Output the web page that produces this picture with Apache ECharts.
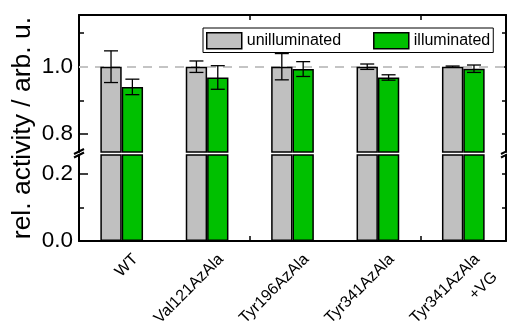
<!DOCTYPE html>
<html><head><meta charset="utf-8">
<script src="https://cdn.jsdelivr.net/npm/echarts@6/dist/echarts.min.js"></script>
<style>html,body{margin:0;padding:0;background:#fff}#c{width:507px;height:324px}</style>
</head><body><div id="c"></div>
<script>
const categories = ['WT', 'Val121AzAla', 'Tyr196AzAla', 'Tyr341AzAla', 'Tyr341AzAla\n+VG'];
const unilluminated = [1.0, 1.0, 1.0, 1.0, 1.0];
const unilluminatedErr = [0.047, 0.017, 0.039, 0.008, 0.002];
const illuminated = [0.94, 0.968, 0.993, 0.968, 0.994];
const illuminatedErr = [0.023, 0.035, 0.022, 0.008, 0.011];
const topMajor = [0.8, 1.0];
const topMinor = [0.9, 1.1];
const bottomMajor = [0.0, 0.2];
const bottomMinor = [0.1];
const referenceLevel = 1.0;

const FONT = 'Liberation Sans, Arial, sans-serif';
const L = 79, R = 1, TOP = 15, BREAK_TOP = 152, BREAK_BOT = 155, BOTTOM = 241;
const PX_PER_UNIT = 337;
const topMin = referenceLevel - (BREAK_TOP - 66.7) / PX_PER_UNIT;
const topMax = referenceLevel + (66.7 - TOP) / PX_PER_UNIT;
const botMax = (BOTTOM - BREAK_BOT) / PX_PER_UNIT;

const chart = echarts.init(document.getElementById('c'), null, {renderer: 'canvas'});

function errSeries(vals, errs, offset, xi, yi) {
  return {
    type: 'custom', xAxisIndex: xi, yAxisIndex: yi, z: 5, silent: true,
    data: vals.map((v, i) => [i, v - errs[i], v + errs[i]]),
    encode: {x: 0, y: [1, 2]},
    renderItem(params, api) {
      const i = api.value(0);
      const lo = api.coord([i, api.value(1)]);
      const hi = api.coord([i, api.value(2)]);
      const bw = api.size([1, 0])[0];
      const x = lo[0] + offset * bw;
      const cap = 7;
      const st = {stroke: '#000', lineWidth: 1.3};
      return {type: 'group', children: [
        {type: 'line', shape: {x1: x, y1: hi[1], x2: x, y2: lo[1]}, style: st},
        {type: 'line', shape: {x1: x - cap, y1: hi[1], x2: x + cap, y2: hi[1]}, style: st},
        {type: 'line', shape: {x1: x - cap, y1: lo[1], x2: x + cap, y2: lo[1]}, style: st}
      ]};
    }
  };
}

function barSeries(name, data, color, xi, yi, extra) {
  return Object.assign({
    name, type: 'bar', xAxisIndex: xi, yAxisIndex: yi, data,
    barGap: '0%', barCategoryGap: '50%', clip: true,
    itemStyle: {color, borderColor: '#000', borderWidth: 1.5},
    emphasis: {disabled: true}
  }, extra || {});
}

const axisLineStyle = {show: true, lineStyle: {color: '#000', width: 2}};
const fmt = v => Number(v).toFixed(1);

function yAx(grid, min, max, pos, ticks, len, labels) {
  return {
    type: 'value', gridIndex: grid, min, max, position: pos,
    axisLine: labels === 'noline' ? {show: false} : axisLineStyle,
    splitLine: {show: false},
    axisTick: {show: true, inside: true, length: len, customValues: ticks, lineStyle: {color: '#000', width: 1.5}},
    axisLabel: Array.isArray(labels) ? {show: true, customValues: labels, formatter: fmt, fontSize: 22.5, fontFamily: FONT, color: '#000', margin: 6} : {show: false}
  };
}

const option = {
  animation: false,
  backgroundColor: '#fff',
  grid: [
    {left: L, right: R, top: TOP, height: BREAK_TOP - TOP, outerBoundsMode: 'none'},
    {left: L, right: R, top: BREAK_BOT, height: BOTTOM - BREAK_BOT, outerBoundsMode: 'none'},
    {left: L + 5, width: 507 - L - R, top: TOP, height: BOTTOM - TOP, outerBoundsMode: 'none'},
    {left: L, right: R, top: TOP, height: BOTTOM - TOP, outerBoundsMode: 'none'}
  ],
  legend: {
    data: ['unilluminated', 'illuminated'],
    left: 203, top: 28,
    padding: [4, 3, 3, 3],
    itemWidth: 35, itemHeight: 16, itemGap: 32,
    borderColor: '#000', borderWidth: 1, backgroundColor: '#fff',
    textStyle: {fontSize: 16, fontFamily: FONT, color: '#000'},
    icon: 'rect', selectedMode: false,
    itemStyle: {borderColor: '#000', borderWidth: 1.5}
  },
  xAxis: [
    {type: 'category', gridIndex: 0, data: categories, position: 'top',
     axisLine: axisLineStyle, axisTick: {show: true, inside: true, length: 5, lineStyle: {color: '#000', width: 1.5}},
     axisLabel: {show: false}},
    {type: 'category', gridIndex: 1, data: categories, position: 'bottom',
     axisLine: axisLineStyle, axisTick: {show: true, inside: true, length: 5, lineStyle: {color: '#000', width: 1.5}},
     axisLabel: {show: false}},
    {type: 'category', gridIndex: 2, data: categories, position: 'bottom',
     axisLine: {show: false}, axisTick: {show: false},
     axisLabel: {show: true, rotate: 45, fontSize: 16, fontFamily: FONT, color: '#000',
                 align: 'right', verticalAlign: 'top', margin: 7, lineHeight: 25, interval: 0,
                 hideOverlap: false}},
    {type: 'category', gridIndex: 3, data: categories, show: false}
  ],
  yAxis: [
    yAx(0, topMin, topMax, 'left', topMajor, 9, topMajor),
    yAx(0, topMin, topMax, 'left', topMinor, 5, 'noline'),
    yAx(0, topMin, topMax, 'right', topMajor.concat(topMinor), 4, null),
    yAx(1, 0, botMax, 'left', bottomMajor, 9, bottomMajor),
    yAx(1, 0, botMax, 'left', bottomMinor, 5, 'noline'),
    yAx(1, 0, botMax, 'right', bottomMajor.concat(bottomMinor), 4, null),
    {type: 'value', gridIndex: 2, show: false},
    {type: 'value', gridIndex: 3, min: 0, max: 1,
     axisLine: {show: false}, axisTick: {show: false}, axisLabel: {show: false}, splitLine: {show: false},
     name: 'rel. activity / arb. u.', nameLocation: 'middle', nameGap: 43,
     nameTextStyle: {fontSize: 26.5, fontFamily: FONT, color: '#000'}}
  ],
  series: [
    barSeries('unilluminated', unilluminated, '#c0c0c0', 0, 0, {
      markLine: {silent: true, symbol: 'none', z: 1, label: {show: false},
        lineStyle: {color: '#c4c4c4', width: 2, type: [9, 7]},
        data: [{yAxis: referenceLevel}]}
    }),
    barSeries('illuminated', illuminated, '#00c000', 0, 0),
    barSeries('unilluminated', unilluminated, '#c0c0c0', 1, 3),
    barSeries('illuminated', illuminated, '#00c000', 1, 3),
    errSeries(unilluminated, unilluminatedErr, -0.125, 0, 0),
    errSeries(illuminated, illuminatedErr, 0.125, 0, 0)
  ]
};
chart.setOption(option);

// axis-break marks ("//") on both vertical axes
const midY = (BREAK_TOP + BREAK_BOT) / 2;
const brk = (x) => [
  {type: 'line', shape: {x1: x - 5, y1: midY + 0.5, x2: x + 5, y2: midY - 4.5}, style: {stroke: '#000', lineWidth: 2}, z: 100},
  {type: 'line', shape: {x1: x - 5, y1: midY + 4, x2: x + 5, y2: midY - 1}, style: {stroke: '#000', lineWidth: 2}, z: 100}
];
chart.setOption({graphic: brk(L).concat(brk(507 - R))});
</script></body></html>
